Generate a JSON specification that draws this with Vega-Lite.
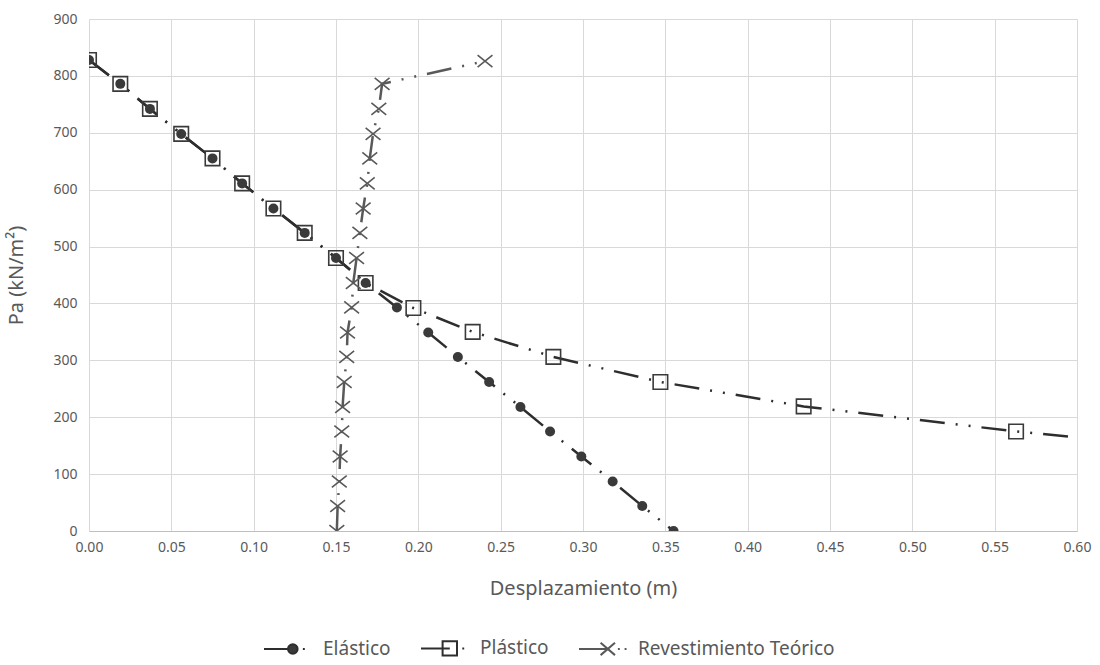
{
  "$schema": "https://vega.github.io/schema/vega-lite/v6.json",
  "autosize": "none",
  "width": 988,
  "height": 512,
  "padding": {"left": 89, "top": 19, "right": 23, "bottom": 134},
  "background": "white",
  "config": {
    "view": {"stroke": null},
    "font": "Noto Sans",
    "axis": {
      "labelFont": "Noto Sans",
      "labelFontSize": 14,
      "labelColor": "#595959",
      "titleFont": "Noto Sans",
      "titleFontWeight": "normal",
      "titleColor": "#595959",
      "ticks": false,
      "domain": false,
      "gridColor": "#d9d9d9",
      "gridWidth": 1,
      "labelFlush": false
    },
    "legend": {
      "labelFont": "Noto Sans",
      "labelFontSize": 19,
      "labelColor": "#595959",
      "labelLimit": 400
    }
  },
  "data": {
    "values": [
      {"s": "Elástico", "i": 0, "d": 0.000, "p": 828},
      {"s": "Elástico", "i": 1, "d": 0.019, "p": 786},
      {"s": "Elástico", "i": 2, "d": 0.037, "p": 742},
      {"s": "Elástico", "i": 3, "d": 0.056, "p": 698},
      {"s": "Elástico", "i": 4, "d": 0.075, "p": 655},
      {"s": "Elástico", "i": 5, "d": 0.093, "p": 611},
      {"s": "Elástico", "i": 6, "d": 0.112, "p": 567},
      {"s": "Elástico", "i": 7, "d": 0.131, "p": 524},
      {"s": "Elástico", "i": 8, "d": 0.150, "p": 480},
      {"s": "Elástico", "i": 9, "d": 0.168, "p": 436},
      {"s": "Elástico", "i": 10, "d": 0.187, "p": 393},
      {"s": "Elástico", "i": 11, "d": 0.206, "p": 349},
      {"s": "Elástico", "i": 12, "d": 0.224, "p": 306},
      {"s": "Elástico", "i": 13, "d": 0.243, "p": 262},
      {"s": "Elástico", "i": 14, "d": 0.262, "p": 218},
      {"s": "Elástico", "i": 15, "d": 0.280, "p": 175},
      {"s": "Elástico", "i": 16, "d": 0.299, "p": 131},
      {"s": "Elástico", "i": 17, "d": 0.318, "p": 87},
      {"s": "Elástico", "i": 18, "d": 0.336, "p": 44},
      {"s": "Elástico", "i": 19, "d": 0.355, "p": 0},

      {"s": "Plástico", "i": 0, "d": 0.000, "p": 828},
      {"s": "Plástico", "i": 1, "d": 0.019, "p": 786},
      {"s": "Plástico", "i": 2, "d": 0.037, "p": 742},
      {"s": "Plástico", "i": 3, "d": 0.056, "p": 698},
      {"s": "Plástico", "i": 4, "d": 0.075, "p": 655},
      {"s": "Plástico", "i": 5, "d": 0.093, "p": 611},
      {"s": "Plástico", "i": 6, "d": 0.112, "p": 567},
      {"s": "Plástico", "i": 7, "d": 0.131, "p": 524},
      {"s": "Plástico", "i": 8, "d": 0.150, "p": 480},
      {"s": "Plástico", "i": 9, "d": 0.168, "p": 436},
      {"s": "Plástico", "i": 10, "d": 0.197, "p": 392},
      {"s": "Plástico", "i": 11, "d": 0.233, "p": 350},
      {"s": "Plástico", "i": 12, "d": 0.282, "p": 306},
      {"s": "Plástico", "i": 13, "d": 0.347, "p": 262},
      {"s": "Plástico", "i": 14, "d": 0.434, "p": 219},
      {"s": "Plástico", "i": 15, "d": 0.563, "p": 175},
      {"s": "Plástico", "i": 16, "d": 0.720, "p": 131},

      {"s": "Revestimiento Teórico", "i": 0, "d": 0.1505, "p": 0},
      {"s": "Revestimiento Teórico", "i": 1, "d": 0.151, "p": 44},
      {"s": "Revestimiento Teórico", "i": 2, "d": 0.152, "p": 87},
      {"s": "Revestimiento Teórico", "i": 3, "d": 0.1525, "p": 131},
      {"s": "Revestimiento Teórico", "i": 4, "d": 0.1535, "p": 175},
      {"s": "Revestimiento Teórico", "i": 5, "d": 0.154, "p": 218},
      {"s": "Revestimiento Teórico", "i": 6, "d": 0.155, "p": 262},
      {"s": "Revestimiento Teórico", "i": 7, "d": 0.1565, "p": 306},
      {"s": "Revestimiento Teórico", "i": 8, "d": 0.157, "p": 349},
      {"s": "Revestimiento Teórico", "i": 9, "d": 0.1595, "p": 393},
      {"s": "Revestimiento Teórico", "i": 10, "d": 0.1605, "p": 436},
      {"s": "Revestimiento Teórico", "i": 11, "d": 0.1625, "p": 480},
      {"s": "Revestimiento Teórico", "i": 12, "d": 0.1645, "p": 524},
      {"s": "Revestimiento Teórico", "i": 13, "d": 0.1665, "p": 567},
      {"s": "Revestimiento Teórico", "i": 14, "d": 0.169, "p": 611},
      {"s": "Revestimiento Teórico", "i": 15, "d": 0.1705, "p": 655},
      {"s": "Revestimiento Teórico", "i": 16, "d": 0.1725, "p": 698},
      {"s": "Revestimiento Teórico", "i": 17, "d": 0.176, "p": 742},
      {"s": "Revestimiento Teórico", "i": 18, "d": 0.178, "p": 786},
      {"s": "Revestimiento Teórico", "i": 19, "d": 0.2405, "p": 826}
    ]
  },
  "encoding": {
    "x": {
      "field": "d",
      "type": "quantitative",
      "scale": {"domain": [0, 0.6], "nice": false, "zero": false},
      "axis": {
        "title": "Desplazamiento (m)",
        "values": [0, 0.05, 0.1, 0.15, 0.2, 0.25, 0.3, 0.35, 0.4, 0.45, 0.5, 0.55, 0.6],
        "format": ".2f",
        "labelPadding": 9,
        "domain": true,
        "domainColor": "#bfbfbf",
        "domainWidth": 1,
        "titleFontSize": 20,
        "titlePadding": 24
      }
    },
    "y": {
      "field": "p",
      "type": "quantitative",
      "scale": {"domain": [0, 900], "nice": false},
      "axis": {
        "title": "Pa (kN/m²)",
        "values": [0, 100, 200, 300, 400, 500, 600, 700, 800, 900],
        "labelPadding": 12,
        "titleFontSize": 20,
        "titlePadding": 26
      }
    }
  },
  "layer": [
    {
      "mark": {"type": "line", "clip": true, "strokeWidth": 2.5, "strokeCap": "butt", "strokeDash": [25, 11, 2, 11, 2, 11]},
      "encoding": {
        "detail": {"field": "s"},
        "order": {"field": "i", "type": "quantitative"},
        "color": {
          "field": "s",
          "type": "nominal",
          "scale": {
            "domain": ["Revestimiento Teórico", "Elástico", "Plástico"],
            "range": ["#595959", "#2e2e2e", "#2e2e2e"]
          },
          "legend": null
        }
      }
    },
    {
      "transform": [{"filter": "datum.s === 'Elástico'"}],
      "mark": {"type": "point", "shape": "circle", "filled": true, "color": "#3a3a3a", "size": 100, "opacity": 1, "clip": true}
    },
    {
      "transform": [{"filter": "datum.s === 'Plástico'"}],
      "mark": {"type": "point", "shape": "square", "filled": false, "color": "#3a3a3a", "size": 210, "strokeWidth": 1.6, "opacity": 1, "clip": true}
    },
    {
      "transform": [{"filter": "datum.s === 'Revestimiento Teórico'"}],
      "mark": {"type": "point", "shape": "M-1,-0.8L1,0.8M-1,0.8L1,-0.8", "filled": false, "color": "#595959", "size": 220, "strokeWidth": 1.6, "opacity": 1, "clip": true}
    },
    {
      "transform": [{"filter": "datum.i < 0"}],
      "mark": {"type": "point", "opacity": 1, "strokeWidth": 2},
      "encoding": {
        "shape": {
          "field": "s",
          "type": "nominal",
          "scale": {
            "domain": ["Elástico", "Plástico", "Revestimiento Teórico"],
            "range": [
              "M-1,0H0M0.4,0A0.2,0.2,0,1,1,0,0A0.2,0.2,0,1,1,0.4,0ZM0.62,0H0.7",
              "M-1,0H0.2M-0.1,-0.3H0.5V0.3H-0.1ZM0.72,0H0.8",
              "M-1,0H0.2M-0.1,-0.26L0.5,0.26M-0.1,0.26L0.5,-0.26M0.62,0H0.7M0.9,0H0.98"
            ]
          },
          "legend": {
            "title": null,
            "orient": "none",
            "legendX": 174,
            "legendY": 604,
            "direction": "horizontal",
            "symbolSize": 2304,
            "symbolStrokeWidth": 2,
            "labelOffset": 10,
            "columnPadding": 26
          }
        },
        "fill": {
          "field": "s",
          "type": "nominal",
          "scale": {
            "domain": ["Elástico", "Plástico", "Revestimiento Teórico"],
            "range": ["#3a3a3a", "transparent", "transparent"]
          },
          "legend": {
            "title": null,
            "orient": "none",
            "legendX": 174,
            "legendY": 604,
            "direction": "horizontal",
            "symbolSize": 2304,
            "symbolStrokeWidth": 2,
            "labelOffset": 10,
            "columnPadding": 26
          }
        },
        "stroke": {
          "field": "s",
          "type": "nominal",
          "scale": {
            "domain": ["Elástico", "Plástico", "Revestimiento Teórico"],
            "range": ["#2e2e2e", "#2e2e2e", "#595959"]
          },
          "legend": {
            "title": null,
            "orient": "none",
            "legendX": 174,
            "legendY": 604,
            "direction": "horizontal",
            "symbolSize": 2304,
            "symbolStrokeWidth": 2,
            "labelOffset": 10,
            "columnPadding": 26
          }
        }
      }
    }
  ]
}
